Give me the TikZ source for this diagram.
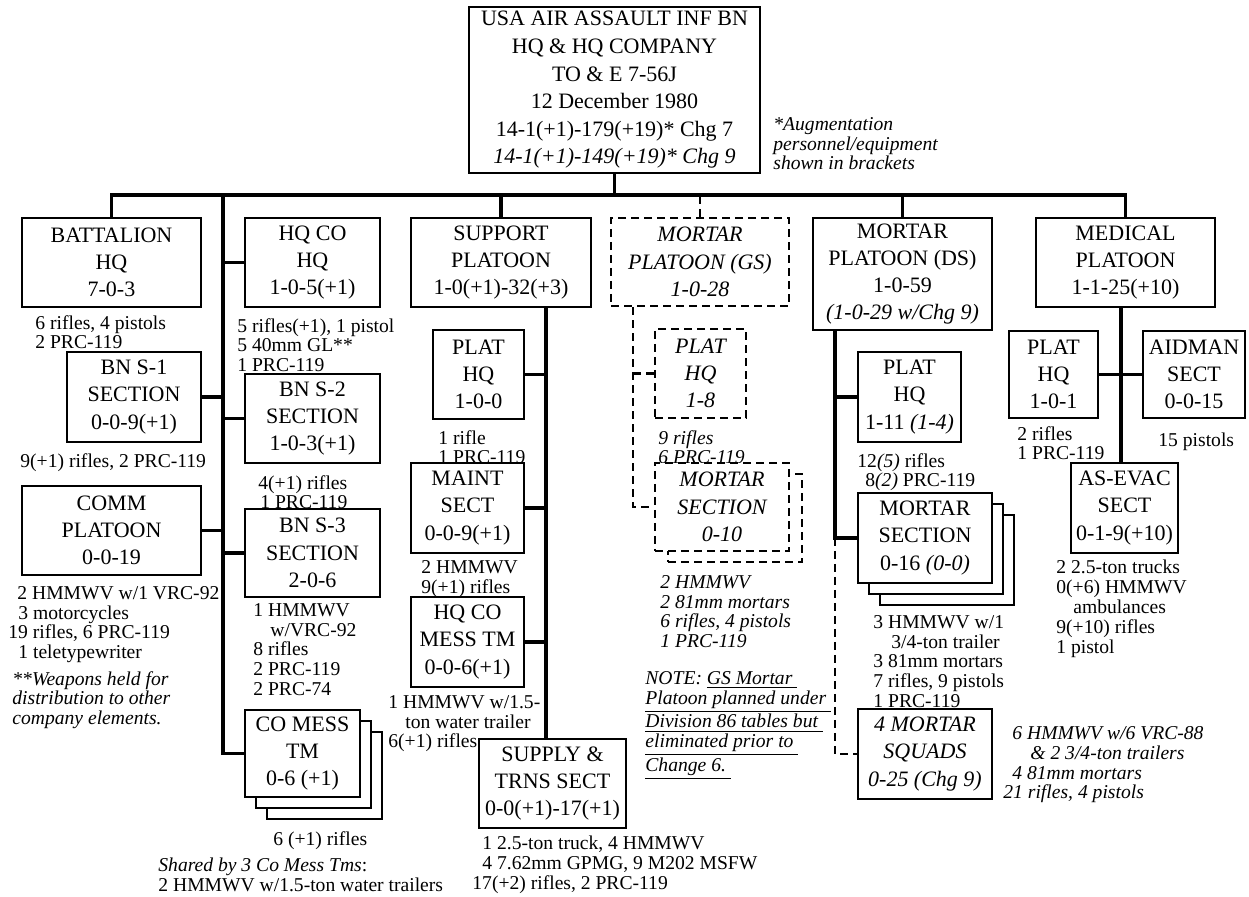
\documentclass[tikz,border=0pt]{standalone}
\usepackage{fontspec}
\setmainfont{Liberation Serif}
\newcommand\boxfont{\fontsize{11}{13.6}\selectfont}
\newcommand\topfont{\fontsize{11}{13.8}\selectfont}
\newcommand\notefont{\fontsize{9.8}{9.9}\selectfont}
\tikzset{
  unit/.style={draw,line width=1.3pt,fill=white,align=center,inner sep=0pt,font=\boxfont},
  gsunit/.style={unit,line width=1.2pt,dash pattern=on 4pt off 2.5pt,font=\boxfont\itshape},
  dims/.style 2 args={minimum width=#1*0.5pt,minimum height=#2*0.5pt},
  link/.style={line width=1.6pt},
  dlink/.style={line width=1.2pt,dash pattern=on 4pt off 2.5pt},
  note/.style={font=\notefont,align=left,inner sep=0pt,anchor=north west},
  inote/.style={note,font=\notefont\itshape}
}
\begin{document}
\begin{tikzpicture}[x=0.5pt,y=-0.5pt,line cap=butt,line join=miter]
  \useasboundingbox (0,0) rectangle (1249,897);
  \node[unit,dims={291}{166},font=\topfont] (top) at (614.5,90) {USA AIR ASSAULT INF BN\\HQ \& HQ COMPANY\\TO \& E 7-56J\\12 December 1980\\14-1(+1)-179(+19)* Chg 7\\\textit{14-1(+1)-149(+19)* Chg 9}};
  \node[inote] (augnote) at (773,117) {*Augmentation\\personnel/equipment\\shown in brackets};
  \coordinate (bus) at (0,195);
  \node[unit,dims={179}{89}] (bnhq) at (111.5,262.5) {BATTALION\\HQ\\7-0-3};
  \node[unit,dims={135}{89}] (hqcohq) at (312.5,262.5) {HQ CO\\HQ\\1-0-5(+1)};
  \node[unit,dims={180}{89}] (spt) at (501,262.5) {SUPPORT\\PLATOON\\1-0(+1)-32(+3)};
  \node[gsunit,dims={178}{88}] (mgs) at (700,262) {MORTAR\\PLATOON (GS)\\1-0-28};
  \node[unit,dims={179}{112}] (mds) at (902.5,274) {MORTAR\\PLATOON (DS)\\1-0-59\\\textit{(1-0-29 w/Chg 9)}};
  \node[unit,dims={179}{89}] (med) at (1125.5,262.5) {MEDICAL\\PLATOON\\1-1-25(+10)};
  \draw[link] (top.south) -- (top.south |- bus);
  \draw[link] (bnhq.north) |- (bus -| med.north) -- (med.north);
  \draw[link] (spt.north) -- (spt.north |- bus);
  \draw[link] (mds.north) -- (mds.north |- bus);
  \draw[dlink] (mgs.north) -- (mgs.north |- bus);
  % HQ company elements
  \node[note] (bnhqnote) at (35,315) {6 rifles, 4 pistols\\2 PRC-119};
  \node[unit,dims={134}{90}] (bns1) at (134,397) {BN S-1\\SECTION\\0-0-9(+1)};
  \node[note] (bns1note) at (20,453) {9(+1) rifles, 2 PRC-119};
  \node[unit,dims={179}{89}] (comm) at (111.5,530.5) {COMM\\PLATOON\\0-0-19};
  \node[note] (commnote) at (8,586) {\hspace{4.5pt}2 HMMWV w/1 VRC-92\\\hspace{5pt}3 motorcycles\\19 rifles, 6 PRC-119\\\hspace{5pt}1 teletypewriter};
  \node[inote] (wpnnote) at (12,671) {**Weapons held for\\distribution to other\\company elements.};
  \node[note] (hqcohqnote) at (237,318) {5 rifles(+1), 1 pistol\\5 40mm GL**\\1 PRC-119};
  \node[unit,dims={135}{89}] (bns2) at (312.5,418.5) {BN S-2\\SECTION\\1-0-3(+1)};
  \node[note] (bns2note) at (258,475) {4(+1) rifles\\\hspace{1pt}1 PRC-119};
  \node[unit,dims={135}{88}] (bns3) at (312.5,553) {BN S-3\\SECTION\\2-0-6};
  \node[note] (bns3note) at (253,603) {1 HMMWV\\\hspace{8.5pt}w/VRC-92\\8 rifles\\2 PRC-119\\2 PRC-74};
  \node[unit,dims={115}{87}] (comess3) at (324.5,775.5) {};
  \node[unit,dims={115}{87}] (comess2) at (313.5,764.5) {};
  \node[unit,dims={115}{87}] (comess) at (302.5,753.5) {CO MESS\\TM\\0-6 (+1)};
  \node[note] (comessnote) at (273,831) {6 (+1) rifles};
  \node[note] (sharednote) at (158,858) {\textit{Shared by 3 Co Mess Tms}:\\2 HMMWV w/1.5-ton water trailers};
  \coordinate (lsp) at (223,195);
  \draw[link] (lsp) |- (comess.west);
  \draw[link] (hqcohq.west) -- (hqcohq.west -| lsp);
  \draw[link] (bns2.west) -- (bns2.west -| lsp);
  \draw[link] (bns3.west) -- (bns3.west -| lsp);
  \draw[link] (bns1.east) -- (bns1.east -| lsp);
  \draw[link] (comm.east) -- (comm.east -| lsp);
  % support platoon
  \node[unit,dims={91}{89}] (splhq) at (478.5,374.5) {PLAT\\HQ\\1-0-0};
  \node[note] (splhqnote) at (438,430) {1 rifle\\1 PRC-119};
  \node[unit,dims={113}{90}] (maint) at (467.5,508) {MAINT\\SECT\\0-0-9(+1)};
  \node[note] (maintnote) at (421,560) {2 HMMWV\\9(+1) rifles};
  \node[unit,dims={113}{90}] (hqmess) at (467.5,642) {HQ CO\\MESS TM\\0-0-6(+1)};
  \node[note] (hqmessnote) at (388,695) {1 HMMWV w/1.5-\\\hspace{8.5pt}ton water trailer\\6(+1) rifles};
  \node[unit,dims={147}{89}] (sply) at (552.5,783.5) {SUPPLY \&\\TRNS SECT\\0-0(+1)-17(+1)};
  \node[note] (splynote) at (472,836) {\hspace{5pt}1 2.5-ton truck, 4 HMMWV\\\hspace{5pt}4 7.62mm GPMG, 9 M202 MSFW\\17(+2) rifles, 2 PRC-119};
  \coordinate (ssp) at (546,0);
  \draw[link] (spt.south -| ssp) -- (sply.north -| ssp);
  \draw[link] (splhq.east) -- (splhq.east -| ssp);
  \draw[link] (maint.east) -- (maint.east -| ssp);
  \draw[link] (hqmess.east) -- (hqmess.east -| ssp);
  % GS mortar platoon
  \node[gsunit,dims={91}{89}] (gplhq) at (700.5,373.5) {PLAT\\HQ\\1-8};
  \node[inote] (gplhqnote) at (658,430) {9 rifles\\6 PRC-119};
  \node[gsunit,dims={134}{88}] (gsec2) at (735,518) {};
  \node[gsunit,dims={134}{88}] (gsec) at (722,507) {MORTAR\\SECTION\\0-10};
  \node[inote] (gsecnote) at (660,575) {2 HMMWV\\2 81mm mortars\\6 rifles, 4 pistols\\1 PRC-119};
  \node[inote] (gsnote) at (645,671) {NOTE: \underline{GS Mortar\ }\\\underline{Platoon planned under\ }\\\underline{Division 86 tables but\ }\\\underline{eliminated prior to\ }\\\underline{Change 6.\ }};
  \coordinate (gsp) at (633,0);
  \draw[dlink] (mgs.south -| gsp) |- (gsec.west);
  \draw[dlink] (gplhq.west) -- (gplhq.west -| gsp);
  % DS mortar platoon
  \node[unit,dims={103}{90}] (dplhq) at (909.5,397) {PLAT\\HQ\\1-11 \textit{(1-4)}};
  \node[note] (dplhqnote) at (857,453) {12\textit{(5)} rifles\\\hspace{4pt}8\textit{(2)} PRC-119};
  \node[unit,dims={134}{90}] (dsec3) at (947,560) {};
  \node[unit,dims={134}{90}] (dsec2) at (936,549) {};
  \node[unit,dims={134}{90}] (dsec) at (925,538) {MORTAR\\SECTION\\0-16 \textit{(0-0)}};
  \node[note] (dsecnote) at (873,615) {3 HMMWV w/1\\\hspace{9pt}3/4-ton trailer\\3 81mm mortars\\7 rifles, 9 pistols\\1 PRC-119};
  \node[unit,dims={134}{90},font=\boxfont\itshape] (sqd) at (925,754) {4 MORTAR\\SQUADS\\0-25 (Chg 9)};
  \node[inote] (sqdnote) at (1003,726) {\hspace{4.5pt}6 HMMWV w/6 VRC-88\\\hspace{13.5pt}\& 2 3/4-ton trailers\\\hspace{4.5pt}4 81mm mortars\\21 rifles, 4 pistols};
  \coordinate (dsp) at (835,0);
  \draw[link] (mds.south -| dsp) |- (dsec.west);
  \draw[link] (dplhq.west) -- (dplhq.west -| dsp);
  \draw[dlink] (dsec.west -| dsp) |- (sqd.west);
  % medical platoon
  \node[unit,dims={89}{87}] (mplhq) at (1053.5,374.5) {PLAT\\HQ\\1-0-1};
  \node[note] (mplhqnote) at (1017,426) {2 rifles\\1 PRC-119};
  \node[unit,dims={102}{87}] (aid) at (1194,374.5) {AIDMAN\\SECT\\0-0-15};
  \node[note] (aidnote) at (1158,433) {15 pistols};
  \node[unit,dims={107}{90}] (evac) at (1124.5,508) {AS-EVAC\\SECT\\0-1-9(+10)};
  \node[note] (evacnote) at (1056,560) {2 2.5-ton trucks\\0(+6) HMMWV\\\hspace{8.5pt}ambulances\\9(+10) rifles\\1 pistol};
  \coordinate (msp) at (1121,0);
  \draw[link] (med.south -| msp) -- (evac.north -| msp);
  \draw[link] (mplhq.east) -- (aid.west);
\end{tikzpicture}
\end{document}
